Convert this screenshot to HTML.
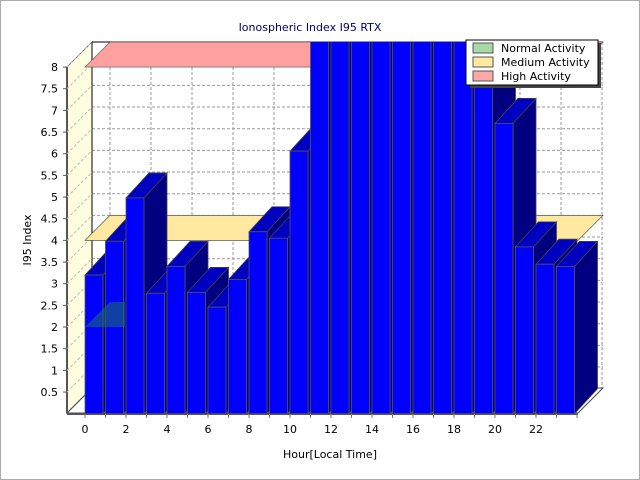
<!DOCTYPE html>
<html><head><meta charset="utf-8"><style>
body{margin:0;background:#fff}
svg{display:block;font-family:"DejaVu Sans","Liberation Sans",sans-serif}
</style></head><body>
<svg width="640" height="480" viewBox="0 0 640 480" xmlns="http://www.w3.org/2000/svg">
<defs><clipPath id="c"><rect x="0" y="42" width="640" height="400"/></clipPath></defs>
<rect x="0.5" y="0.5" width="639" height="479" fill="#fff" stroke="#aaa"/>
<text x="310" y="31" font-size="11" fill="#000066" text-anchor="middle">Ionospheric Index I95 RTX</text>
<rect x="92" y="42" width="511" height="346" fill="#fff"/>
<g stroke="#999" stroke-dasharray="3,2" stroke-width="1" id="grid"></g>
<polygon points="67,67 92,42 92,388 67,413" fill="#fffde0" stroke="#777"/>
<polygon points="67,413 92,388 603,388 578,413" fill="#fff" stroke="#444"/>
<line x1="92" y1="42" x2="92" y2="388" stroke="#000"/>
<line x1="92" y1="42" x2="603" y2="42" stroke="#000"/>
<line x1="67" y1="67" x2="67" y2="413" stroke="#555" stroke-width="2"/>
<line x1="67" y1="414" x2="578" y2="414" stroke="#555" stroke-width="2"/>
<g id="gen"></g>
<rect x="470" y="43" width="131" height="45" fill="#444"/>
<rect x="466" y="40" width="132" height="45" fill="#fff" stroke="#000"/>
<rect x="473" y="43" width="20" height="10" fill="#a8d8a8" stroke="#555"/>
<rect x="473" y="57" width="20" height="10" fill="#ffe8a0" stroke="#555"/>
<rect x="473" y="71" width="20" height="10" fill="#ffa8a8" stroke="#555"/>
<text x="501" y="52" font-size="11">Normal Activity</text>
<text x="501" y="66" font-size="11">Medium Activity</text>
<text x="501" y="80" font-size="11">High Activity</text>
<text x="330" y="458" font-size="11" text-anchor="middle">Hour[Local Time]</text>
<text transform="translate(31,240) rotate(-90)" font-size="11" text-anchor="middle">I95 Index</text>
</svg>
<script>
const ns="http://www.w3.org/2000/svg";
function el(p,t,a){const e=document.createElementNS(ns,t);for(const k in a)e.setAttribute(k,a[k]);p.appendChild(e);return e;}
const grid=document.getElementById('grid'), gen=document.getElementById('gen');
const svg=document.querySelector('svg');
const Y0=413.7,S=43.33;
for(let v=0.5;v<=8;v+=0.5){const by=388.7-S*v;el(grid,'line',{x1:92,y1:by,x2:603,y2:by});}
for(let k=0;k<=24;k+=2){const x=110+20.5*k;el(grid,'line',{x1:x,y1:42,x2:x,y2:388});}
for(let v=0.5;v<=8;v+=0.5){const fy=Y0-S*v;el(gen,'line',{x1:67,y1:fy,x2:92,y2:fy-25,stroke:'#bbb','stroke-dasharray':'3,2'});
 el(gen,'line',{x1:63,y1:fy,x2:67,y2:fy,stroke:'#555'});
 el(gen,'text',{x:58,y:fy+4,'font-size':11,'text-anchor':'end'}).textContent=(v%1?v:v.toString());}
function plane(v,fill,op){const fy=Y0-S*v;el(gen,'polygon',{points:`85,${fy} 110,${fy-25} 603,${fy-25} 578,${fy}`,fill:fill,'fill-opacity':op,stroke:'#555','stroke-width':0.7});}
plane(8,'#ffa0a0',1);plane(4,'#ffe8a0',1);
const vals=[3.2,3.98,4.98,2.78,3.4,2.8,2.46,3.1,4.2,4.05,6.06,9,9,9,9,9,9,9,9,9,6.7,3.85,3.45,3.4];
const g=el(gen,'g',{'clip-path':'url(#c)'});
const dx=23,dy=-25;
vals.forEach((v,i)=>{const x=85+20.5*i,w=18,y=Y0-S*v;
 el(g,'polygon',{points:`${x+w},${y} ${x+w+dx},${y+dy} ${x+w+dx},${Y0+dy} ${x+w},${Y0}`,fill:'#000080',stroke:'#444','stroke-width':0.8});
 el(g,'polygon',{points:`${x},${y} ${x+dx},${y+dy} ${x+w+dx},${y+dy} ${x+w},${y}`,fill:'#0000c0',stroke:'#444','stroke-width':0.8});
 el(g,'rect',{x:x,y:y,width:w,height:Y0-y,fill:'#0000ff',stroke:'#555','stroke-width':0.8});
});
(function(){const fy=Y0-S*2;el(gen,'polygon',{points:`85,${fy} 110,${fy-25} 125,${fy-25} 125,${fy}`,fill:'#1a6a6a','fill-opacity':0.6});})();
for(let k=0;k<=22;k+=2){const x=85+20.5*k;el(gen,'text',{x:x,y:433,'font-size':11,'text-anchor':'middle'}).textContent=k;}
for(let k=0;k<=24;k++){const x=85+20.5*k;el(gen,'line',{x1:x,y1:414,x2:x,y2:418,stroke:'#777'});}
svg.appendChild(svg.querySelector('rect[x="470"]'));
['rect[x="466"]','rect[y="43"][x="473"]','rect[y="57"]','rect[y="71"]'].forEach(s=>svg.appendChild(svg.querySelector(s)));
svg.querySelectorAll('text').forEach(t=>{if(t.textContent.includes('Activity'))svg.appendChild(t);});
</script>
</body></html>
